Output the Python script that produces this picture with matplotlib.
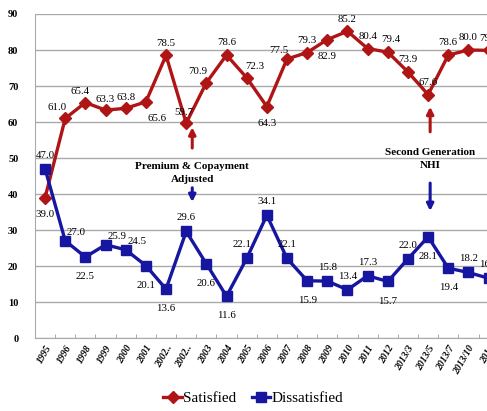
import matplotlib
matplotlib.use("Agg")
import matplotlib.pyplot as plt
import matplotlib.transforms as mtransforms

# data
labels = ["1995", "1996", "1998", "1999", "2000", "2001", "2002..", "2002..",
          "2003", "2004", "2005", "2006", "2007", "2008", "2009", "2010",
          "2011", "2012", "2013/3", "2013/5", "2013/7", "2013/10", "2014"]
satisfied = [39.0, 61.0, 65.4, 63.3, 63.8, 65.6, 78.5, 59.7, 70.9, 78.6, 72.3,
             64.3, 77.5, 79.3, 82.9, 85.2, 80.4, 79.4, 73.9, 67.6, 78.6, 80.0, 79.9]
dissatisfied = [47.0, 27.0, 22.5, 25.9, 24.5, 20.1, 13.6, 29.6, 20.6, 11.6, 22.1,
                34.1, 22.1, 15.9, 15.8, 13.4, 17.3, 15.7, 22.0, 28.1, 19.4, 18.2, 16.6]

# label offsets (dx, dy in points)
sat_off = [(0, -14), (-6, 6), (-4, 6), (0, 6), (0, 6), (8, -14), (0, 7), (-2, 6),
           (-6, 6), (0, 7), (6, 6), (0, -14), (-6, 4), (0, 7), (0, -14), (0, 7),
           (0, 7), (2, 7), (0, 7), (0, 7), (0, 7), (0, 7), (0, 7)]
dis_off = [(0, 8), (8, 4), (0, -16), (8, 4), (8, 4), (0, -16), (0, -16), (0, 8),
           (0, -16), (0, -16), (-3, 8), (0, 8), (0, 8), (0, -16), (0, 8), (0, 8),
           (0, 8), (0, -16), (0, 8), (0, -16), (0, -16), (0, 8), (0, 8)]

red = "#B01515"
blue = "#1616A0"
serif = "Liberation Serif"

fig = plt.figure(figsize=(4.87, 4.11), dpi=100)
ax = fig.add_axes([35/487, 73/411, 1 - 35/487, 324/411])

x = list(range(len(labels)))
ax.plot(x, satisfied, color=red, lw=2.4, marker="D", ms=6.5, label="Satisfied", zorder=3)
ax.plot(x, dissatisfied, color=blue, lw=2.4, marker="s", ms=7, label="Dissatisfied", zorder=3)

for i in x:
    ax.annotate("%.1f" % satisfied[i], (i, satisfied[i]), xytext=sat_off[i],
                textcoords="offset points", ha="center", fontsize=7.8,
                family=serif, annotation_clip=False)
    ax.annotate("%.1f" % dissatisfied[i], (i, dissatisfied[i]), xytext=dis_off[i],
                textcoords="offset points", ha="center", fontsize=7.8,
                family=serif, annotation_clip=False)

# event arrows
ax.annotate("", xy=(7.3, 59.3), xytext=(7.3, 52), arrowprops=dict(
    arrowstyle="-|>", color=red, lw=2.2, mutation_scale=10))
ax.text(7.3, 45.8, "Premium & Copayment\nAdjusted", ha="center", va="center",
        fontsize=8, fontweight="bold", family=serif, linespacing=1.5)
ax.annotate("", xy=(7.3, 37), xytext=(7.3, 42.5), arrowprops=dict(
    arrowstyle="-|>", color=blue, lw=2.2, mutation_scale=10))

ax.annotate("", xy=(19.1, 65), xytext=(19.1, 56.5), arrowprops=dict(
    arrowstyle="-|>", color=red, lw=2.2, mutation_scale=10))
ax.text(19.1, 49.8, "Second Generation\nNHI", ha="center", va="center",
        fontsize=8, fontweight="bold", family=serif, linespacing=1.6)
ax.annotate("", xy=(19.1, 34.5), xytext=(19.1, 43.8), arrowprops=dict(
    arrowstyle="-|>", color=blue, lw=2.2, mutation_scale=10))

ax.set_yticks(range(0, 91, 10))
ax.set_xticks(x)
ax.set_xticklabels(labels, rotation=60, ha="right", rotation_mode="anchor",
                   fontsize=7, fontweight="bold", fontstyle="italic", family=serif)
for t in ax.get_yticklabels():
    t.set_family(serif)
    t.set_fontweight("bold")
    t.set_fontsize(7.5)
ax.tick_params(axis="x", length=0, pad=4)
ax.tick_params(axis="y", length=0, pad=12)
ax.set_xticks([i + 0.5 for i in x], minor=True)
ax.tick_params(axis="x", which="minor", length=3, direction="in", color="#999999")
ax.set_xlim(-0.5, 21.92)
ax.set_ylim(0, 90)
ax.grid(axis="y", color="#AAAAAA", lw=1)
for s in ["top", "right"]:
    ax.spines[s].set_visible(False)
ax.spines["left"].set_color("#AAAAAA")
ax.spines["bottom"].set_color("#AAAAAA")

# last category label sits past the right edge, like in the original crop
trans = mtransforms.blended_transform_factory(ax.transData, ax.transAxes)
ax.annotate(labels[-1], (len(labels) - 1, 0), xycoords=trans, xytext=(0, -4),
            textcoords="offset points", rotation=60, ha="right", va="top",
            rotation_mode="anchor", fontsize=7, fontweight="bold",
            fontstyle="italic", family=serif, annotation_clip=False)

fig.legend(loc="lower center", bbox_to_anchor=(0.52, -0.02), ncol=2, frameon=False,
           prop={"family": serif, "size": 11}, handlelength=1.2, handletextpad=0.1,
           columnspacing=1.0)

fig.savefig("out.png", dpi=100)
